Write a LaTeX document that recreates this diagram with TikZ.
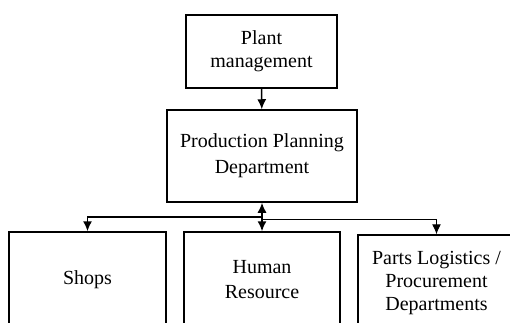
\documentclass[tikz,border=0pt]{standalone}
\usepackage{fontspec}
\setmainfont{Liberation Serif}
\usetikzlibrary{arrows.meta}
\begin{document}
\begin{tikzpicture}[x=1pt, y=1pt]
        \tikzset{
            unit/.style={draw, line width=1.5pt, align=center, inner sep=0pt,
                font=\fontsize{20}{23}\selectfont},
            link/.style={line width=1.5pt, -{Latex[length=10pt, width=9pt]}}
        }
        \useasboundingbox (0,0) rectangle (510,-323);
        \clip (0,0) rectangle (510,-323);

        \node[unit, minimum width=151pt, minimum height=73pt] (plant) at (261.5,-51.5) {Plant\\management};
        \node[unit, minimum width=190pt, minimum height=92pt] (ppd) at (262,-156) {Production Planning\\[3pt]Department};

        \node[unit, minimum width=157pt, minimum height=96pt] (shops) at (87.5,-280) {Shops};
        \node[unit, minimum width=156pt, minimum height=96pt] (hr) at (262,-280) {Human\\[2pt]Resource};
        \node[unit, minimum width=157pt, minimum height=96pt] (parts) at (436.5,-283) {Parts Logistics /\\Procurement\\Departments};

        \coordinate (split) at (262,-217);

        \draw[link] (plant) -- (ppd);
        \draw[link] (split) -- (ppd);
        \draw[link] (split) -| (shops);
        \draw[link] (split) -- (hr);
        \draw[link, line width=1pt] (split) ++(0,-2) -| (parts);
    \end{tikzpicture}
\end{document}
